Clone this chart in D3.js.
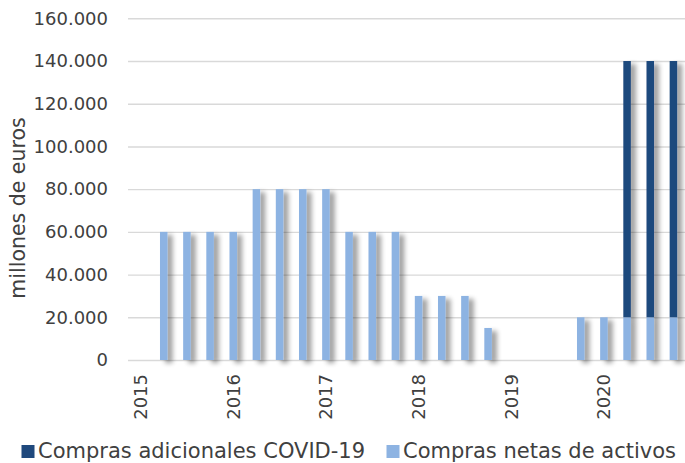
<!DOCTYPE html>
<html>
<head>
<meta charset="utf-8">
<script src="https://cdn.jsdelivr.net/npm/d3@7"></script>
<style>
  body { margin: 0; background: #fff; }
  #chart { width: 685px; height: 463px; }
  text { font-family: "DejaVu Sans", sans-serif; fill: #404040; }
</style>
</head>
<body>
<div id="chart"></div>
<script>
// quarterly periods, 2015 T1 .. 2020 T4
const periods = [
  "2015-T1", "2015-T2", "2015-T3", "2015-T4",
  "2016-T1", "2016-T2", "2016-T3", "2016-T4",
  "2017-T1", "2017-T2", "2017-T3", "2017-T4",
  "2018-T1", "2018-T2", "2018-T3", "2018-T4",
  "2019-T1", "2019-T2", "2019-T3", "2019-T4",
  "2020-T1", "2020-T2", "2020-T3", "2020-T4"
];
const netPurchases = [
  0, 60000, 60000, 60000,
  60000, 80000, 80000, 80000,
  80000, 60000, 60000, 60000,
  30000, 30000, 30000, 15000,
  0, 0, 0, 20000,
  20000, 20000, 20000, 20000
];
const covidPurchases = [
  0, 0, 0, 0,
  0, 0, 0, 0,
  0, 0, 0, 0,
  0, 0, 0, 0,
  0, 0, 0, 0,
  0, 120000, 120000, 120000
];
const seriesNames = ["Compras adicionales COVID-19", "Compras netas de activos"];
const seriesColors = ["#1f497d", "#8db3e2"];
const yTicks = [0, 20000, 40000, 60000, 80000, 100000, 120000, 140000, 160000];
const yTitle = "millones de euros";

class PurchasesChart {
  constructor(container) {
    this.container = d3.select(container);
    this.width = 685;
    this.height = 463;
    this.margin = { left: 129, right: 685, top: 18.3, bottom: 360 };
    this.locale = d3.formatLocale({
      decimal: ",",
      thousands: ".",
      grouping: [3],
      currency: ["", " €"]
    });
    this.draw();
  }

  draw() {
    const m = this.margin;
    this.svg = this.container
      .append("svg")
      .attr("width", this.width)
      .attr("height", this.height);

    // soft grey shadow to the right of each bar
    const defs = this.svg.append("defs");
    const filter = defs
      .append("filter")
      .attr("id", "shadow")
      .attr("x", "-10%")
      .attr("y", "-10%")
      .attr("width", "120%")
      .attr("height", "120%");
    filter.append("feGaussianBlur").attr("in", "SourceAlpha").attr("stdDeviation", 2.6);
    filter.append("feOffset").attr("dx", 5).attr("dy", 3).attr("result", "off");
    filter
      .append("feComponentTransfer")
      .append("feFuncA")
      .attr("type", "linear")
      .attr("slope", 0.38);
    const merge = filter.append("feMerge");
    merge.append("feMergeNode");
    merge.append("feMergeNode").attr("in", "SourceGraphic");

    this.x = d3
      .scaleBand()
      .domain(periods)
      .range([m.left, m.right])
      .paddingInner(0.675)
      .paddingOuter(0.3375);

    this.y = d3
      .scaleLinear()
      .domain([0, 160000])
      .range([m.bottom, m.top]);

    // y axis + gridlines
    const yAxis = this.svg
      .append("g")
      .attr("transform", "translate(" + (m.left - 1) + ",0)")
      .call(
        d3
          .axisLeft(this.y)
          .tickValues(yTicks)
          .tickSize(-(m.right - m.left + 1))
          .tickPadding(20)
          .tickFormat(this.locale.format(",.0f"))
      );
    yAxis.select(".domain").remove();
    yAxis.selectAll("line").attr("stroke", "#d9d9d9").attr("stroke-width", 1.4);
    yAxis
      .selectAll("text")
      .attr("fill", "#404040")
      .style("font-size", "18px")
      .style("font-family", '"DejaVu Sans", sans-serif');

    // stacked bars
    const rows = periods.map((p, i) => ({
      period: p,
      net: netPurchases[i],
      covid: covidPurchases[i]
    }));
    const stack = d3.stack().keys(["net", "covid"])(rows);
    const colorOf = { net: seriesColors[1], covid: seriesColors[0] };

    this.svg
      .append("g")
      .attr("filter", "url(#shadow)")
      .selectAll("g")
      .data(stack)
      .join("g")
      .attr("fill", (d) => colorOf[d.key])
      .selectAll("rect")
      .data((d) => d.filter((v) => v[1] - v[0] > 0))
      .join("rect")
      .attr("x", (d) => this.x(d.data.period))
      .attr("width", this.x.bandwidth())
      .attr("y", (d) => this.y(d[1]))
      .attr("height", (d) => this.y(d[0]) - this.y(d[1]));

    // x axis: year labels on first quarter
    const xAxis = this.svg
      .append("g")
      .attr("transform", "translate(0," + m.bottom + ")")
      .call(
        d3
          .axisBottom(this.x)
          .tickValues(periods.filter((p) => p.endsWith("T1")))
          .tickSize(0)
          .tickFormat((p) => p.slice(0, 4))
      );
    xAxis.select(".domain").remove();
    xAxis
      .selectAll("text")
      .attr("transform", "rotate(-90)")
      .attr("x", -14)
      .attr("y", 0)
      .attr("dy", "0.36em")
      .attr("fill", "#404040")
      .style("text-anchor", "end")
      .style("font-size", "18px")
      .style("font-family", '"DejaVu Sans", sans-serif');

    // y title
    this.svg
      .append("text")
      .attr("transform", "translate(25,208) rotate(-90)")
      .style("text-anchor", "middle")
      .style("font-size", "20.5px")
      .text(yTitle);

    // legend
    const legendX = [21.5, 386.5];
    const legend = this.svg
      .append("g")
      .selectAll("g")
      .data(seriesNames)
      .join("g")
      .attr("transform", (d, i) => "translate(" + legendX[i] + ",445)");
    legend
      .append("rect")
      .attr("width", 13)
      .attr("height", 13)
      .attr("fill", (d, i) => seriesColors[i]);
    legend
      .append("text")
      .attr("x", 16.5)
      .attr("y", 13)
      .style("font-size", "21px")
      .text((d) => d);
  }
}

new PurchasesChart("#chart");
</script>
</body>
</html>
